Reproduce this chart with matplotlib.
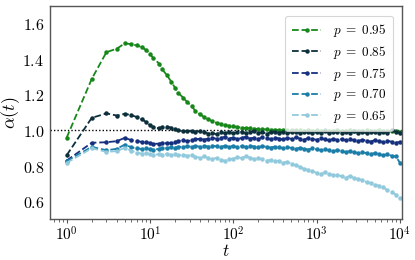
import numpy as np
import matplotlib
matplotlib.use("Agg")
import matplotlib.pyplot as plt
from matplotlib.ticker import FuncFormatter, LogLocator, NullFormatter

plt.rcParams['mathtext.fontset'] = 'cm'
plt.rcParams['font.family'] = ['DejaVu Serif']

t = [1, 2, 3, 4, 5, 6, 7, 8, 9, 10,
     11, 13, 14, 16, 18, 20, 22, 25, 28, 32,
     35, 40, 45, 50, 56, 63, 71, 79, 89, 100,
     112, 126, 141, 158, 178, 200, 224, 251, 282, 316,
     355, 398, 447, 501, 562, 631, 708, 794, 891, 1000,
     1122, 1259, 1413, 1585, 1778, 1995, 2239, 2512, 2818, 3162,
     3548, 3981, 4467, 5012, 5623, 6310, 7079, 7943, 8913, 10000]

a_095 = [0.96, 1.29, 1.44, 1.46, 1.49, 1.485, 1.478, 1.468, 1.452, 1.432,
         1.405, 1.375, 1.345, 1.31, 1.275, 1.24, 1.21, 1.185, 1.16, 1.135,
         1.11, 1.09, 1.075, 1.063, 1.052, 1.043, 1.037, 1.032, 1.027, 1.023,
         1.02, 1.016, 1.014, 1.012, 1.01, 1.008, 1.007, 1.006, 1.005, 1.004,
         1.003, 1.003, 1.002, 1.001, 1.0, 1.001, 0.999, 1.0, 0.998, 1.0,
         0.999, 1.001, 0.998, 0.999, 1.0, 0.997, 0.999, 1.0, 0.998, 0.997,
         0.999, 1.0, 0.996, 0.998, 1.0, 0.997, 0.999, 0.996, 0.998, 0.994]

a_085 = [0.861, 1.071, 1.096, 1.084, 1.094, 1.086, 1.075, 1.062, 1.048, 1.03,
         1.018, 1.012, 1.02, 1.022, 1.016, 1.008, 1.0, 0.997, 0.996, 0.998,
         0.994, 0.996, 0.99, 0.983, 0.986, 0.979, 0.99, 0.986, 0.991, 0.984,
         0.989, 0.993, 0.985, 0.99, 0.995, 0.986, 0.991, 0.983, 0.99, 0.994,
         0.987, 0.992, 0.985, 0.99, 0.994, 0.986, 0.99, 0.993, 0.984, 0.991,
         0.988, 0.995, 0.986, 0.99, 0.993, 0.985, 0.991, 0.988, 0.995, 0.987,
         0.99, 0.986, 0.993, 0.989, 0.985, 0.992, 0.988, 1.0, 0.99, 0.988]

a_075 = [0.831, 0.931, 0.934, 0.94, 0.959, 0.945, 0.94, 0.936, 0.935, 0.93,
         0.925, 0.926, 0.93, 0.928, 0.932, 0.936, 0.941, 0.945, 0.94, 0.946,
         0.95, 0.954, 0.949, 0.955, 0.96, 0.953, 0.958, 0.964, 0.955, 0.96,
         0.952, 0.958, 0.965, 0.955, 0.96, 0.953, 0.962, 0.956, 0.951, 0.96,
         0.955, 0.95, 0.958, 0.953, 0.961, 0.955, 0.949, 0.957, 0.952, 0.948,
         0.956, 0.95, 0.945, 0.953, 0.947, 0.952, 0.944, 0.95, 0.946, 0.941,
         0.948, 0.943, 0.938, 0.946, 0.94, 0.935, 0.943, 0.937, 0.932, 0.935]

a_070 = [0.828, 0.908, 0.889, 0.897, 0.921, 0.905, 0.9, 0.896, 0.9, 0.895,
         0.892, 0.897, 0.903, 0.9, 0.906, 0.903, 0.91, 0.906, 0.912, 0.908,
         0.913, 0.909, 0.914, 0.91, 0.915, 0.911, 0.908, 0.914, 0.91, 0.913,
         0.907, 0.912, 0.909, 0.915, 0.91, 0.906, 0.912, 0.908, 0.904, 0.91,
         0.906, 0.9, 0.906, 0.902, 0.897, 0.903, 0.898, 0.893, 0.899, 0.894,
         0.889, 0.895, 0.889, 0.884, 0.89, 0.885, 0.879, 0.884, 0.878, 0.873,
         0.879, 0.872, 0.868, 0.873, 0.866, 0.861, 0.867, 0.858, 0.854, 0.82]

a_065 = [0.818, 0.90, 0.88, 0.884, 0.903, 0.885, 0.876, 0.87, 0.873, 0.866,
         0.862, 0.868, 0.865, 0.87, 0.863, 0.867, 0.86, 0.865, 0.858, 0.862,
         0.852, 0.848, 0.855, 0.845, 0.84, 0.846, 0.835, 0.83, 0.838, 0.842,
         0.85, 0.845, 0.856, 0.848, 0.84, 0.846, 0.838, 0.83, 0.835, 0.826,
         0.83, 0.82, 0.824, 0.812, 0.805, 0.795, 0.785, 0.778, 0.77, 0.762,
         0.755, 0.765, 0.758, 0.748, 0.752, 0.742, 0.735, 0.745, 0.732, 0.728,
         0.72, 0.71, 0.705, 0.695, 0.69, 0.68, 0.665, 0.655, 0.64, 0.62]

series = [
    (a_095, r'$p\;=\;0.95$', '#17871a'),
    (a_085, r'$p\;=\;0.85$', '#0c2f3c'),
    (a_075, r'$p\;=\;0.75$', '#15307e'),
    (a_070, r'$p\;=\;0.70$', '#1a7ea8'),
    (a_065, r'$p\;=\;0.65$', '#91c9dd'),
]

fig = plt.figure(figsize=(4.15, 2.6), dpi=100)
ax = fig.add_axes([0.1205, 0.156, 0.848, 0.821])

ax.axhline(1.0, color='black', linestyle=(0, (1, 1.5)), linewidth=1.0, zorder=1)
for vals, lab, col in series:
    ax.plot(t, vals, linestyle='--', marker='o', markersize=2.2, linewidth=1.3,
            color=col, label=lab, zorder=2)

ax.set_xscale('log')
ax.set_xlim(10 ** -0.2, 10 ** 4.025)
ax.set_ylim(0.5, 1.7)
ax.set_yticks([0.6, 0.8, 1.0, 1.2, 1.4, 1.6])
ax.yaxis.set_major_formatter(FuncFormatter(lambda v, p: f'${v:.1f}$'))
ax.xaxis.set_major_locator(LogLocator(base=10, numticks=10))
ax.xaxis.set_major_formatter(FuncFormatter(lambda v, p: f'$10^{{{int(round(np.log10(v)))}}}$'))
ax.xaxis.set_minor_locator(LogLocator(base=10, subs=np.arange(2, 10), numticks=20))
ax.xaxis.set_minor_formatter(NullFormatter())

for s in ax.spines.values():
    s.set_color('#555555')
    s.set_linewidth(1.0)
ax.tick_params(axis='x', which='major', length=3, color='#555555', labelsize=11, pad=1.5)
ax.tick_params(axis='x', which='minor', length=1.8, color='#555555')
ax.tick_params(axis='y', which='both', length=0, labelsize=11.5, pad=4)

ax.set_xlabel('$t$', fontsize=12.5, labelpad=-0.5)
ax.set_ylabel(r'$\alpha(t)$', fontsize=13, labelpad=0)

leg = ax.legend(loc='upper right', fontsize=9.5, handlelength=2.2, labelspacing=0.35,
                frameon=True, fancybox=True, borderpad=0.5, handletextpad=0.9,
                bbox_to_anchor=(0.993, 0.985))
leg.get_frame().set_edgecolor('#cccccc')
leg.get_frame().set_linewidth(0.8)

fig.savefig('out.png', dpi=100)
